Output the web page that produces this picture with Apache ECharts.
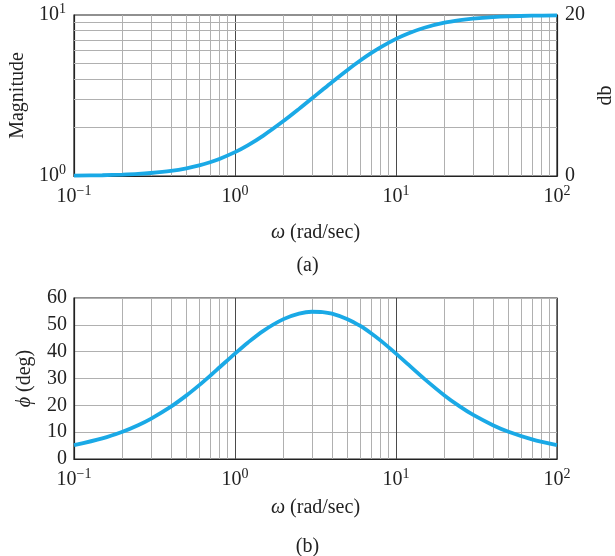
<!DOCTYPE html>
<html><head><meta charset="utf-8">
<script src="https://cdn.jsdelivr.net/npm/echarts@6/dist/echarts.min.js"></script>
<style>html,body{margin:0;padding:0;background:#fff}#c{width:615px;height:556px}</style>
</head><body><div id="c"></div>
<script>
// frequency points (rad/sec)
const omega = [0.1,0.15,0.2,0.25,0.3,0.4,0.5,0.6,0.7,0.8,1,1.2,1.5,2,2.5,3,3.5,4,5,6,7,8,10,12,15,20,25,30,40,50,70,100];
// magnitude (a)
const magnitude = [1.005,1.011,1.020,1.030,1.044,1.077,1.117,1.164,1.218,1.277,1.407,1.551,1.783,2.193,2.612,3.029,3.436,3.828,4.561,5.216,5.793,6.296,7.106,7.709,8.339,8.955,9.292,9.492,9.705,9.808,9.900,9.950];
// phase (deg) (b)
const phase = [5.14,7.67,10.16,12.61,14.98,19.51,23.71,27.53,30.99,34.09,39.29,43.35,47.78,52.12,54.16,54.87,54.76,54.16,52.12,49.58,46.88,44.21,39.29,35.05,29.88,23.71,19.51,16.52,12.61,10.16,7.31,5.14];
// minor grid lines
const minorX = [0.2,0.3,0.4,0.5,0.6,0.7,0.8,0.9,2,3,4,5,6,7,8,9,20,30,40,50,60,70,80,90];
const decadeX = [1,10];
const minorMag = [2,3,4,5,6,7,8,9];

const FONT = 'Liberation Serif';
const GRAY = '#b0b0b0';
const DARK = '#4a4a4a';
const CURVE = '#1aa9e6';
const TXT = '#222';

const supRich = {
  b:{fontFamily:FONT,fontSize:20,color:TXT},
  s:{fontFamily:FONT,fontSize:14,color:TXT,padding:[0,0,11,0]}
};
function powLabel(v){
  const e = Math.round(Math.log10(v));
  const t = e < 0 ? '\u2212' + (-e) : String(e);
  return '{b|10}{s|' + t + '}';
}
const nameRich = {
  i:{fontFamily:FONT,fontSize:20,fontStyle:'italic',color:TXT}
};

function xAxisCfg(idx, gap){
  return {
    type:'log', logBase:10, gridIndex:idx, min:0.1, max:100,
    name:'{i|\u03c9} (rad/sec)', nameLocation:'middle', nameGap:gap,
    nameTextStyle:{fontFamily:FONT,fontSize:20,color:TXT,rich:nameRich},
    axisLine:{show:true,lineStyle:{color:TXT,width:1.2}},
    axisTick:{show:false},
    axisLabel:{formatter:powLabel,rich:supRich,margin:8},
    splitLine:{show:true,lineStyle:{color:DARK,width:1}},
    minorTick:{show:false},minorSplitLine:{show:false}
  };
}

const vLines = minorX.map(v=>({xAxis:v, lineStyle:{color:GRAY,width:1,type:'solid'}}))
  .concat(decadeX.map(v=>({xAxis:v, lineStyle:{color:DARK,width:1,type:'solid'}})));

const option = {
  animation:false,
  backgroundColor:'#fff',
  title:[
    {text:'(a)',left:'center',top:251,textStyle:{fontFamily:FONT,fontSize:20,fontWeight:'normal',color:TXT}},
    {text:'(b)',left:'center',top:532,textStyle:{fontFamily:FONT,fontSize:20,fontWeight:'normal',color:TXT}}
  ],
  grid:[
    {left:74,top:15,width:483,height:161,show:true,borderColor:TXT,borderWidth:1.2,backgroundColor:'transparent',containLabel:false,outerBoundsMode:'none'},
    {left:74,top:298,width:483,height:161,show:true,borderColor:TXT,borderWidth:1.2,backgroundColor:'transparent',containLabel:false,outerBoundsMode:'none'}
  ],
  xAxis:[xAxisCfg(0,47), xAxisCfg(1,39)],
  yAxis:[
    {type:'log',logBase:10,gridIndex:0,min:1,max:10,
     name:'Magnitude',nameLocation:'middle',nameGap:42,nameRotate:90,
     nameTextStyle:{fontFamily:FONT,fontSize:20,color:TXT},
     axisLine:{show:true,lineStyle:{color:TXT,width:1.2}},axisTick:{show:false},
     axisLabel:{formatter:powLabel,rich:supRich,margin:8},
     splitLine:{show:false}},
    {type:'value',gridIndex:0,position:'right',min:0,max:20,interval:20,
     name:'db',nameLocation:'middle',nameGap:39,nameRotate:90,
     nameTextStyle:{fontFamily:FONT,fontSize:20,color:TXT},
     axisLine:{show:true,lineStyle:{color:TXT,width:1.2}},axisTick:{show:false},
     axisLabel:{fontFamily:FONT,fontSize:20,color:TXT,margin:8},
     splitLine:{show:false}},
    {type:'value',gridIndex:1,min:0,max:60,interval:10,
     name:'{i|\u03d5} (deg)',nameLocation:'middle',nameGap:39,nameRotate:90,
     nameTextStyle:{fontFamily:FONT,fontSize:20,color:TXT,rich:nameRich},
     axisLine:{show:true,lineStyle:{color:TXT,width:1.2}},axisTick:{show:false},
     axisLabel:{fontFamily:FONT,fontSize:20,color:TXT,margin:7},
     splitLine:{show:true,lineStyle:{color:GRAY,width:1}}}
  ],
  series:[
    {type:'line',xAxisIndex:0,yAxisIndex:0,data:[],z:1,silent:true,
     markLine:{silent:true,symbol:'none',label:{show:false},animation:false,
       data: vLines.concat(minorMag.map(v=>({yAxis:v,lineStyle:{color:GRAY,width:1,type:'solid'}})))}},
    {type:'line',xAxisIndex:1,yAxisIndex:2,data:[],z:1,silent:true,
     markLine:{silent:true,symbol:'none',label:{show:false},animation:false,data:vLines}},
    {type:'line',xAxisIndex:0,yAxisIndex:0,z:5,smooth:0.3,showSymbol:false,
     lineStyle:{color:CURVE,width:3.8},
     data:omega.map((w,i)=>[w,magnitude[i]])},
    {type:'line',xAxisIndex:1,yAxisIndex:2,z:5,smooth:0.3,showSymbol:false,
     lineStyle:{color:CURVE,width:3.8},
     data:omega.map((w,i)=>[w,phase[i]])}
  ]
};
echarts.init(document.getElementById('c'),null,{renderer:'canvas'}).setOption(option);
</script></body></html>
